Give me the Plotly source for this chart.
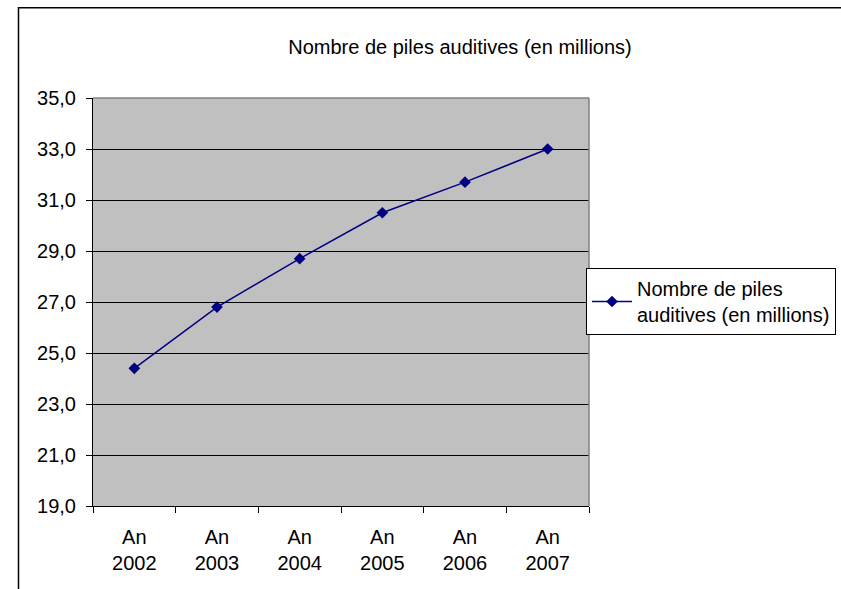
import plotly.graph_objects as go

categories = ["An 2002", "An 2003", "An 2004", "An 2005", "An 2006", "An 2007"]
values = [24.4, 26.8, 28.7, 30.5, 31.7, 33.0]
series_name = "Nombre de piles<br>auditives (en millions)"
title_text = "Nombre de piles auditives (en millions)"
y_ticks = [19, 21, 23, 25, 27, 29, 31, 33, 35]

tick_labels = [c.replace(" ", "<br>") for c in categories]

FONT = "Liberation Sans, Arial, sans-serif"
W, H = 841, 589
L, R, T, B = 93, 589, 98, 506

def px_to_paper_x(px):
    return (px - L) / (R - L)

def py_to_paper_y(py):
    return (B - py) / (B - T)

fig = go.Figure()
fig.add_trace(go.Scatter(
    x=categories, y=values, name=series_name, mode="lines+markers",
    line=dict(color="#000080", width=1.5),
    marker=dict(symbol="diamond", size=9, color="#000080"),
    showlegend=True,
))

fig.update_layout(
    width=W, height=H,
    margin=dict(l=L, r=W - R, t=T, b=H - B, pad=0, autoexpand=False),
    paper_bgcolor="white",
    plot_bgcolor="#C0C0C0",
    font=dict(family=FONT, size=20, color="black"),
    title=dict(text=title_text, x=460 / W, xanchor="center",
               y=1 - 47 / H, yanchor="middle",
               font=dict(family=FONT, size=20, color="black")),
    showlegend=True,
    legend=dict(x=px_to_paper_x(586), xanchor="left",
                y=py_to_paper_y(301.5), yanchor="middle",
                bgcolor="white", bordercolor="black", borderwidth=1,
                font=dict(family=FONT, size=20, color="black"),
                itemwidth=40),
    xaxis=dict(
        type="category", tickmode="array", tickvals=categories, ticktext=tick_labels,
        tickson="boundaries", ticks="outside", ticklen=6, tickcolor="black",
        showline=True, linecolor="black", linewidth=1,
        showgrid=False, zeroline=False, fixedrange=True, automargin=False,
        ticklabelstandoff=13,
        tickfont=dict(family=FONT, size=20, color="black"),
        range=[-0.5, 5.5],
    ),
    yaxis=dict(
        range=[19, 35], tickmode="array", tickvals=y_ticks,
        tickformat=".1f", ticks="outside", ticklen=6, tickcolor="black",
        showline=True, linecolor="black", linewidth=1, automargin=False,
        showgrid=True, gridcolor="black", gridwidth=1,
        zeroline=False, ticklabelstandoff=6,
        tickfont=dict(family=FONT, size=20, color="black"),
    ),
    separators=",.",
    shapes=[
        dict(type="line", xref="paper", yref="paper", x0=0, x1=1, y0=1, y1=1,
             line=dict(color="#808080", width=1.5), layer="above"),
        dict(type="line", xref="paper", yref="paper", x0=1, x1=1, y0=0, y1=1,
             line=dict(color="#808080", width=1.5), layer="above"),
        dict(type="rect", xref="paper", yref="paper",
             x0=px_to_paper_x(18.5), x1=px_to_paper_x(880),
             y0=py_to_paper_y(640), y1=py_to_paper_y(7.75),
             line=dict(color="black", width=1.5), fillcolor="rgba(0,0,0,0)",
             layer="above"),
    ],
)

fig.write_html(
    "out.html",
    config={"displayModeBar": False},
    post_script="document.body.style.margin='0';document.body.style.overflow='hidden';",
)
